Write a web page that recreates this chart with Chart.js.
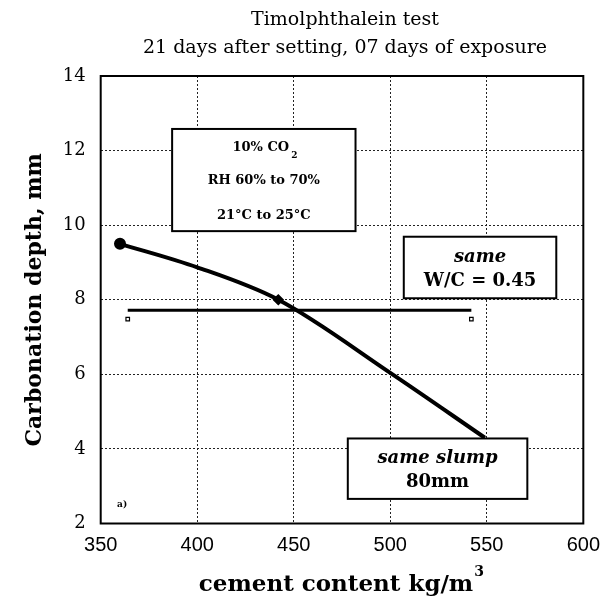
<!DOCTYPE html>
<html><head><meta charset="utf-8">
<script src="https://cdn.jsdelivr.net/npm/chart.js@4.4.1/dist/chart.umd.min.js"></script>
<style>html,body{margin:0;padding:0;background:#fff}#wrap{width:610px;height:608px}</style>
</head><body><div id="wrap"><canvas id="c" width="610" height="608"></canvas></div>
<script>
const xTicks = [350, 400, 450, 500, 550, 600];
const yTicks = [2, 4, 6, 8, 10, 12, 14];
const slumpX = [360, 400, 442, 500, 549];
const slumpY = [9.5, 8.87, 8.0, 6.04, 4.3];
const wcX = [364, 542];
const wcY = [7.72, 7.72];
const wcMarkY = [7.48, 7.48];
const titleLines = ["Timolphthalein test", "21 days after setting, 07 days of exposure"];
const xTitle = "cement content kg/m";
const yTitle = "Carbonation depth, mm";

const SERIF = '"DejaVu Serif", serif';

const boxes = [
  {x0:387, x1:482, y0:12.58, y1:9.84, lines:[
    {t:"10% CO", sub:"2", font:"bold 13px "+SERIF, dy:0.18},
    {t:"RH 60% to 70%", font:"bold 13px "+SERIF, dy:0.51},
    {t:"21°C to 25°C", font:"bold 13px "+SERIF, dy:0.85}]},
  {x0:507, x1:586, y0:9.69, y1:8.04, lines:[
    {t:"same", font:"italic bold 18px "+SERIF, dy:0.33},
    {t:"W/C = 0.45", font:"bold 18px "+SERIF, dy:0.73}]},
  {x0:478, x1:571, y0:4.28, y1:2.66, lines:[
    {t:"same slump", font:"italic bold 18px "+SERIF, dy:0.33},
    {t:"80mm", font:"bold 18px "+SERIF, dy:0.73}]}
];

const deco = {
  id:'deco',
  beforeDatasetsDraw(chart){
    const {ctx, chartArea:a} = chart;
    ctx.save();
    ctx.strokeStyle='#000'; ctx.lineWidth=2;
    ctx.strokeRect(a.left, a.top, a.right-a.left, a.bottom-a.top);
    ctx.restore();
  },
  afterDatasetsDraw(chart){
    const {ctx, chartArea:a, scales:{x, y}} = chart;
    const cx=(a.left+a.right)/2;
    ctx.save();
    ctx.fillStyle='#000';
    ctx.textAlign='center'; ctx.textBaseline='middle';
    ctx.font = '19px '+SERIF;
    ctx.fillText(titleLines[0], cx+3, 20);
    ctx.fillText(titleLines[1], cx+3, 48);
    boxes.forEach(b=>{
      const L=x.getPixelForValue(b.x0), R=x.getPixelForValue(b.x1);
      const T=y.getPixelForValue(b.y0), B=y.getPixelForValue(b.y1);
      ctx.fillStyle='#fff'; ctx.fillRect(L,T,R-L,B-T);
      ctx.strokeStyle='#000'; ctx.lineWidth=2; ctx.strokeRect(L,T,R-L,B-T);
      ctx.fillStyle='#000';
      b.lines.forEach(l=>{
        ctx.font=l.font;
        const cy = T+(B-T)*l.dy;
        if(l.sub){
          const w=ctx.measureText(l.t).width;
          ctx.textAlign='left';
          const sx=(L+R)/2-w/2-3;
          ctx.fillText(l.t, sx, cy);
          ctx.font='bold 9px '+SERIF;
          ctx.fillText(l.sub, sx+w+2, cy+8);
          ctx.textAlign='center';
        } else ctx.fillText(l.t,(L+R)/2,cy);
      });
    });
    ctx.font='bold 9px '+SERIF; ctx.textAlign='left';
    ctx.fillText('a)', x.getPixelForValue(358.5), y.getPixelForValue(2.5));
    // axis titles
    ctx.font='bold 23px '+SERIF;
    const w=ctx.measureText(xTitle).width;
    ctx.textAlign='left';
    ctx.fillText(xTitle, cx-w/2-6, 585);
    ctx.font='bold 14px '+SERIF;
    ctx.fillText('3', cx+w/2-5, 572);
    ctx.save();
    ctx.translate(35,(a.top+a.bottom)/2);
    ctx.rotate(-Math.PI/2);
    ctx.font='bold 22px '+SERIF; ctx.textAlign='center';
    ctx.fillText(yTitle,0,0);
    ctx.restore();
    ctx.restore();
  }
};

new Chart(document.getElementById('c'), {
  type:'scatter',
  data:{datasets:[
    {data: slumpX.map((v,i)=>({x:v,y:slumpY[i]})), showLine:true, borderColor:'#000', backgroundColor:'#000',
     borderWidth:4, cubicInterpolationMode:'monotone', pointRadius:[4,0,3,0,0], pointStyle:['circle','circle','rectRot','circle','circle']},
    {data: wcX.map((v,i)=>({x:v,y:wcY[i]})), showLine:true, borderColor:'#000', borderWidth:3, pointRadius:0},
    {data: wcX.map((v,i)=>({x:v,y:wcMarkY[i]})), showLine:false, pointStyle:'rect', pointRadius:2.5,
     borderColor:'#000', borderWidth:1.2, backgroundColor:'#fff'}
  ]},
  options:{
    responsive:false, animation:false, events:[],
    layout:{padding:{left:0,right:17.5,top:76,bottom:0}},
    plugins:{legend:{display:false}, tooltip:{enabled:false}},
    scales:{
      x:{type:'linear', min:350, max:600,
        afterBuildTicks:s=>{s.ticks=xTicks.map(v=>({value:v}));},
        afterFit:s=>{s.height=84.5;},
        grid:{color:'#222', lineWidth:1, drawTicks:false},
        border:{display:false, dash:[2,2]},
        ticks:{color:'#000', padding:10, font:{family:'Liberation Sans', size:20}}},
      y:{type:'linear', min:2, max:14,
        afterBuildTicks:s=>{s.ticks=yTicks.map(v=>({value:v}));},
        afterFit:s=>{s.width=100.7;},
        grid:{color:'#222', lineWidth:1, drawTicks:false},
        border:{display:false, dash:[2,2]},
        ticks:{color:'#000', padding:15, font:{family:'DejaVu Serif', size:18}}}
    }
  },
  plugins:[deco]
});
</script></body></html>
